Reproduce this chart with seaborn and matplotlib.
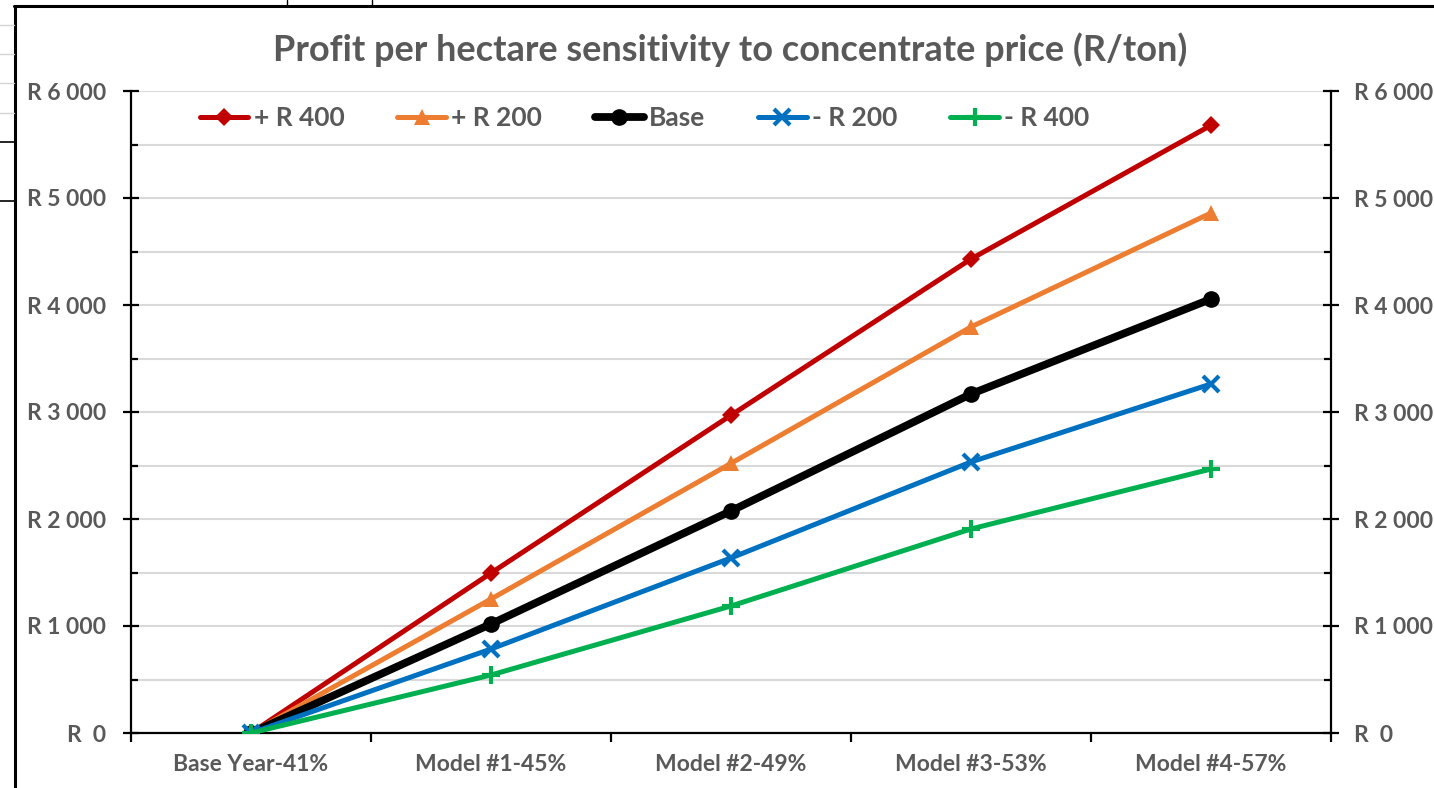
import matplotlib
matplotlib.use("Agg")
import matplotlib.pyplot as plt
from matplotlib.lines import Line2D
from matplotlib.ticker import MultipleLocator, FixedLocator, FuncFormatter
import seaborn as sns
import pandas as pd

# Scenario data: profit per hectare (R) for each model
categories = ["Base Year-41%", "Model #1-45%", "Model #2-49%", "Model #3-53%", "Model #4-57%"]
plus_400 = [0, 1495, 2970, 4430, 5680]
plus_200 = [0, 1252, 2520, 3795, 4860]
base = [0, 1019, 2075, 3168, 4056]
minus_200 = [0, 785, 1636, 2533, 3262]
minus_400 = [0, 542, 1187, 1907, 2467]
series_names = ["+ R 400", "+ R 200", "Base", "- R 200", "- R 400"]

W, H = 1434, 788
sns.set_theme(style="white")
plt.rcParams["font.family"] = ["Lato", "DejaVu Sans"]
TEXT = "#595959"

fig = plt.figure(figsize=(W / 100, H / 100), dpi=100)
ax = fig.add_axes([131 / W, 1 - 733 / H, 1200 / W, 642 / H])

df = pd.DataFrame({
    "category": categories * 5,
    "x": list(range(len(categories))) * 5,
    "series": [s for s in series_names for _ in categories],
    "value": plus_400 + plus_200 + base + minus_200 + minus_400,
})

styles = {
    "+ R 400": dict(color="#C00000", marker="D", markersize=9, lw=3.6, mew=0),
    "+ R 200": dict(color="#ED7D31", marker="^", markersize=11, lw=3.6, mew=0),
    "Base": dict(color="#000000", marker="o", markersize=12, lw=5.6, mew=0),
    "- R 200": dict(color="#0070C0", marker="x", markersize=11, lw=3.6, mew=3),
    "- R 400": dict(color="#00B050", marker="+", markersize=13, lw=3.6, mew=3),
}

for name in series_names:
    st = styles[name]
    sub = df[df["series"] == name]
    sns.lineplot(data=sub, x="x", y="value", ax=ax, color=st["color"], lw=st["lw"],
                 marker=st["marker"], markersize=st["markersize"],
                 markeredgewidth=st["mew"], markeredgecolor=st["color"],
                 label=name, zorder=3, legend=False)

ax.set_xlim(-0.5, len(categories) - 0.5)
ax.set_ylim(0, 6000)
ax.set_xlabel("")
ax.set_ylabel("")

# Gridlines every R 500
ax.yaxis.set_major_locator(MultipleLocator(1000))
ax.yaxis.set_minor_locator(MultipleLocator(500))
ax.grid(axis="y", which="both", color="#D9D9D9", lw=1.5, zorder=0)
ax.grid(axis="x", visible=False)
ax.set_axisbelow(True)


def rand_fmt(v, pos):
    if v == 0:
        return "R  0"
    return "R " + f"{int(v):,}".replace(",", " ")


ax.yaxis.set_major_formatter(FuncFormatter(rand_fmt))

for side in ["top", "right"]:
    ax.spines[side].set_visible(False)
for side in ["left", "bottom"]:
    ax.spines[side].set_visible(True)
    ax.spines[side].set_color("black")
    ax.spines[side].set_linewidth(1.6)

TICK_FS = 16.5
ax.tick_params(axis="y", which="major", direction="inout", length=11.5, width=1.6,
               color="black", pad=12, labelsize=TICK_FS, labelcolor=TEXT, left=True)
ax.tick_params(axis="y", which="minor", direction="in", length=5, width=1.6,
               color="black", left=True)
for lbl in ax.get_yticklabels():
    lbl.set_fontweight("bold")

# Category labels centred, tick marks between categories
ax.xaxis.set_major_locator(FixedLocator(range(len(categories))))
ax.set_xticklabels(categories, fontsize=TICK_FS, fontweight="bold", color=TEXT)
ax.xaxis.set_minor_locator(FixedLocator([i - 0.5 for i in range(len(categories) + 1)]))
ax.tick_params(axis="x", which="major", length=0, pad=15, bottom=True)
ax.tick_params(axis="x", which="minor", direction="out", length=6.5, width=1.6,
               color="black", bottom=True)

# Secondary axis on the right mirrors the value scale
ax2 = ax.twinx()
ax2.set_ylim(ax.get_ylim())
ax2.yaxis.set_major_locator(MultipleLocator(1000))
ax2.yaxis.set_minor_locator(MultipleLocator(500))
ax2.yaxis.set_major_formatter(FuncFormatter(rand_fmt))
ax2.grid(False)
for side in ["top", "left", "bottom"]:
    ax2.spines[side].set_visible(False)
ax2.spines["right"].set_visible(True)
ax2.spines["right"].set_color("black")
ax2.spines["right"].set_linewidth(1.6)
ax2.tick_params(axis="y", which="major", direction="inout", length=11.5, width=1.6,
                color="black", pad=11, labelsize=TICK_FS, labelcolor=TEXT, right=True)
ax2.tick_params(axis="y", which="minor", direction="in", length=5, width=1.6,
                color="black", right=True)
for lbl in ax2.get_yticklabels():
    lbl.set_fontweight("bold")

# Legend across the top of the plot area
handles, labels = ax.get_legend_handles_labels()
leg = ax.legend(handles, labels, loc="center", bbox_to_anchor=(0.428, 0.958), ncol=5,
                frameon=False, fontsize=19, handlelength=1.85, handletextpad=0.2,
                columnspacing=2.0)
for t in leg.get_texts():
    t.set_color(TEXT)
    t.set_fontweight("bold")

fig.text(730 / W, 1 - 50 / H, "Profit per hectare sensitivity to concentrate price (R/ton)",
         ha="center", va="center", fontsize=26, fontweight="bold", color=TEXT)

# Chart frame and surrounding worksheet cell borders
def fig_line(x0, y0, x1, y1, color="black", lw=2.2):
    fig.add_artist(Line2D([x0 / W, x1 / W], [1 - y0 / H, 1 - y1 / H],
                          transform=fig.transFigure, color=color, lw=lw))

fig_line(14, 6, W, 6)
fig_line(15, 6, 15, H)
fig_line(287, 0, 287, 6, lw=1)
fig_line(372, 0, 372, 6, lw=1)
for yy in [25, 54, 83, 113]:
    fig_line(0, yy, 14, yy, color="#D4D4D4", lw=1)
for yy in [142, 201]:
    fig_line(0, yy, 14, yy, lw=1.2)

fig.savefig("out.png", dpi=100)
